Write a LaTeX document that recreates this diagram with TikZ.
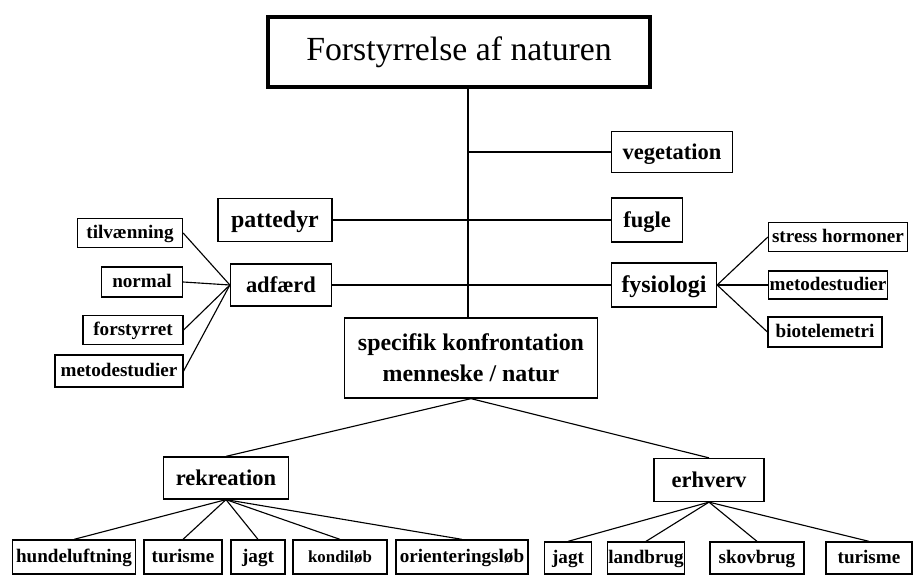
\documentclass[tikz,border=0pt]{standalone}
\usepackage{fontspec}
\setmainfont{Liberation Serif}
\usepackage{tikz}
\usetikzlibrary{positioning, calc}

\begin{document}
\begin{tikzpicture}[
    x=0.025cm, y=-0.025cm,
    box/.style={rectangle, draw, line width=0.9pt, inner sep=0pt, align=center, text height=13pt, text depth=3pt, font=\fontsize{16}{19}\selectfont\bfseries},
    small/.style={box, text height=11pt, text depth=2.5pt, font=\fontsize{13.6}{16}\selectfont\bfseries},
    headbox/.style={rectangle, draw, line width=2.6pt, inner sep=0pt, font=\fontsize{24}{28}\selectfont},
    link/.style={line width=0.8pt},
]
\useasboundingbox (0,0) rectangle (916,576);

% Title
\node[headbox, minimum width=382*0.025cm, minimum height=70*0.025cm] (title) at (459,52) {Forstyrrelse af naturen};
\coordinate (trunk) at (468,0);

% Centre
\node[box, text height=, text depth=, font=\fontsize{17}{22}\selectfont\bfseries, minimum width=253*0.025cm, minimum height=80*0.025cm] (specifik) at (471,358) {specifik konfrontation\\menneske / natur};

% Right of trunk
\node[box, minimum width=121*0.025cm, minimum height=41*0.025cm] (vegetation) at (672,152) {vegetation};
\node[box, minimum width=71*0.025cm, minimum height=44*0.025cm] (fugle) at (647,220) {fugle};
\node[box, font=\fontsize{17}{20}\selectfont\bfseries, minimum width=105*0.025cm, minimum height=44*0.025cm] (fysiologi) at (664,285) {fysiologi};

% Left of trunk
\node[box, font=\fontsize{17}{20}\selectfont\bfseries, minimum width=114*0.025cm, minimum height=43*0.025cm] (pattedyr) at (275,220) {pattedyr};
\node[box, minimum width=101*0.025cm, minimum height=42*0.025cm] (adfaerd) at (281,285) {adfærd};

% Behaviour leaves
\node[small, minimum width=105*0.025cm, minimum height=29*0.025cm] (tilvaenning) at (130,233) {tilvænning};
\node[small, minimum width=81*0.025cm, minimum height=30*0.025cm] (normal) at (142,282) {normal};
\node[small, minimum width=100*0.025cm, minimum height=29*0.025cm] (forstyrret) at (133,330) {forstyrret};
\node[small, minimum width=128*0.025cm, minimum height=32*0.025cm] (metodeL) at (119,371) {metodestudier};

% Physiology leaves
\node[small, minimum width=139*0.025cm, minimum height=29*0.025cm] (stress) at (838,237) {stress hormoner};
\node[small, minimum width=119*0.025cm, minimum height=28*0.025cm] (metodeR) at (828,285) {metodestudier};
\node[small, minimum width=114*0.025cm, minimum height=30*0.025cm] (biotele) at (825,332) {biotelemetri};

% Second level
\node[box, minimum width=125*0.025cm, minimum height=42*0.025cm] (rekreation) at (226,478) {rekreation};
\node[box, minimum width=110*0.025cm, minimum height=43*0.025cm] (erhverv) at (709,480) {erhverv};

% Bottom row
\node[small, minimum width=123*0.025cm, minimum height=34*0.025cm] (hunde) at (74,557) {hundeluftning};
\node[small, minimum width=78*0.025cm, minimum height=34*0.025cm] (turismeA) at (183,557) {turisme};
\node[small, minimum width=54*0.025cm, minimum height=34*0.025cm] (jagtA) at (258,557) {jagt};
\node[small, font=\fontsize{12}{14}\selectfont\bfseries, minimum width=94*0.025cm, minimum height=34*0.025cm] (kondi) at (340,557) {kondiløb};
\node[small, minimum width=132*0.025cm, minimum height=34*0.025cm] (orient) at (462,557) {orienteringsløb};
\node[small, minimum width=47*0.025cm, minimum height=32*0.025cm] (jagtB) at (568,558) {jagt};
\node[small, minimum width=77*0.025cm, minimum height=32*0.025cm] (landbrug) at (646,558) {landbrug};
\node[small, minimum width=94*0.025cm, minimum height=32*0.025cm] (skovbrug) at (757,558) {skovbrug};
\node[small, minimum width=86*0.025cm, minimum height=32*0.025cm] (turismeB) at (869,558) {turisme};

% Trunk and branches
\draw[link] (title.south -| trunk) -- (specifik.north -| trunk);
\draw[link] (vegetation.west) -- (vegetation.west -| trunk);
\draw[link] (pattedyr) -- (fugle);
\draw[link] (adfaerd) -- (fysiologi);

% Fans
\foreach \leaf in {tilvaenning, normal, forstyrret, metodeL}
    \draw[link] (adfaerd.west) -- (\leaf.east);
\foreach \leaf in {stress, metodeR, biotele}
    \draw[link] (fysiologi.east) -- (\leaf.west);
\draw[link] (specifik.south) -- (rekreation.north);
\draw[link] (specifik.south) -- (erhverv.north);
\foreach \leaf in {hunde, turismeA, jagtA, kondi, orient}
    \draw[link] (rekreation.south) -- (\leaf.north);
\foreach \leaf in {jagtB, landbrug, skovbrug, turismeB}
    \draw[link] (erhverv.south) -- (\leaf.north);

\end{tikzpicture}
\end{document}
